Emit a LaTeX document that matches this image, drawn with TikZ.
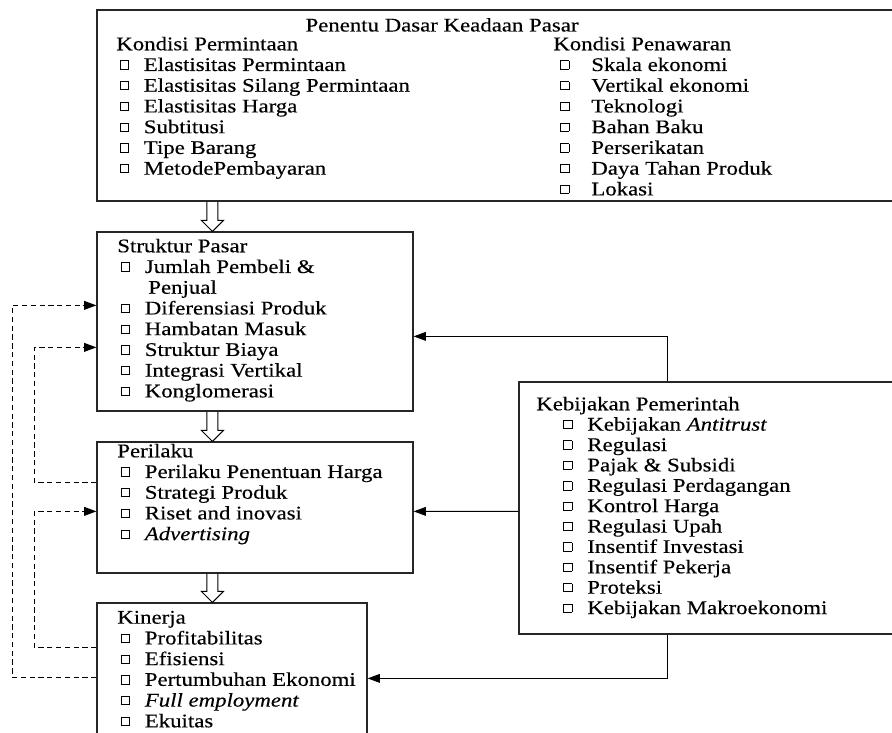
\documentclass[tikz,border=0pt]{standalone}
\usepackage{fontspec}
\setmainfont{Liberation Serif}[FakeStretch=1.18, FakeBold=0.3]
\usetikzlibrary{arrows.meta,calc,fit}

\newcommand{\cbox}{\raisebox{1.3pt}{\fboxsep=0pt\fboxrule=0.4pt\fbox{\rule{0pt}{4.3pt}\rule{4.3pt}{0pt}}}}
\newcommand{\itm}[2][0.07cm]{\hspace*{#1}\makebox[0.48cm][l]{\cbox}#2}
\newcommand{\itmr}[1]{\hspace*{0.14cm}\makebox[0.62cm][l]{\cbox}#1}
\newcommand{\flowarrow}[2]{%
  \draw[hollow] ($(#1)+(110.5,0)$) -- ($(#2)+(110.5,-11)$) -- ($(#2)+(105,-11)$)
    -- ($(#2)+(116,0)$) -- ($(#2)+(127,-11)$) -- ($(#2)+(121.5,-11)$) -- ($(#1)+(121.5,0)$);}

\begin{document}
\begin{tikzpicture}[
  x=0.02cm, y=-0.02cm,
  panel/.style={draw=black!85, line width=0.7pt, inner sep=0pt},
  txt/.style={inner sep=0pt, anchor=north west, align=left, font=\fontsize{11}{11.8}\selectfont},
  link/.style={-{Triangle[length=7pt,width=5pt]}, line width=0.6pt},
  feedback/.style={link, line width=0.75pt, dash pattern=on 3pt off 2pt},
  hollow/.style={line width=0.6pt, line join=miter}
]
\useasboundingbox (0,0) rectangle (892,733);
\clip (0,0) rectangle (892,733);

\node[panel, fit={(97,10) (900,201)}] (penentu) {};
\node[panel, fit={(97,232) (413,411)}] (struktur) {};
\node[panel, fit={(97,442) (413,573)}] (perilaku) {};
\node[panel, fit={(97,603) (367,760)}] (kinerja) {};
\node[panel, fit={(519,382) (900,634)}] (kebijakan) {};

\node[txt, anchor=base] (judul) at (442,31.5) {Penentu Dasar Keadaan Pasar};
\node[txt] (permintaan) at (116,36.5) {Kondisi Permintaan\\
  \itm{Elastisitas Permintaan}\\
  \itm{Elastisitas Silang Permintaan}\\
  \itm{Elastisitas Harga}\\
  \itm{Subtitusi}\\
  \itm{Tipe Barang}\\
  \itm{MetodePembayaran}};
\node[txt] (penawaran) at (553,36.5) {Kondisi Penawaran\\
  \itmr{Skala ekonomi}\\
  \itmr{Vertikal ekonomi}\\
  \itmr{Teknologi}\\
  \itmr{Bahan Baku}\\
  \itmr{Perserikatan}\\
  \itmr{Daya Tahan Produk}\\
  \itmr{Lokasi}};
\node[txt] (strukturtxt) at (117,238.5) {Struktur Pasar\\
  \itm{Jumlah Pembeli \&}\\
  \hspace*{0.62cm}Penjual\\
  \itm{Diferensiasi Produk}\\
  \itm{Hambatan Masuk}\\
  \itm{Struktur Biaya}\\
  \itm{Integrasi Vertikal}\\
  \itm{Konglomerasi}};
\node[txt] (perilakutxt) at (117,443.5) {Perilaku\\
  \itm{Perilaku Penentuan Harga}\\
  \itm{Strategi Produk}\\
  \itm{Riset and inovasi}\\
  \itm{\textit{Advertising}}};
\node[txt] (kinerjatxt) at (117,610.5) {Kinerja\\
  \itm{Profitabilitas}\\
  \itm{Efisiensi}\\
  \itm{Pertumbuhan Ekonomi}\\
  \itm{\textit{Full employment}}\\
  \itm{Ekuitas}};
\node[txt, font=\fontsize{11}{11.6}\selectfont] (kebijakantxt) at (536,396.5) {Kebijakan Pemerintah\\
  \itm[0.54cm]{Kebijakan \textit{Antitrust}}\\
  \itm[0.54cm]{Regulasi}\\
  \itm[0.54cm]{Pajak \& Subsidi}\\
  \itm[0.54cm]{Regulasi Perdagangan}\\
  \itm[0.54cm]{Kontrol Harga}\\
  \itm[0.54cm]{Regulasi Upah}\\
  \itm[0.54cm]{Insentif Investasi}\\
  \itm[0.54cm]{Insentif Pekerja}\\
  \itm[0.54cm]{Proteksi}\\
  \itm[0.54cm]{Kebijakan Makroekonomi}};

\flowarrow{penentu.south west}{struktur.north west}
\flowarrow{struktur.south west}{perilaku.north west}
\flowarrow{perilaku.south west}{kinerja.north west}

\draw[feedback] ($(kinerja.north west)+(0,75)$) -- ++(-84,0) |- ($(struktur.north west)+(0,74)$);
\draw[feedback] ($(perilaku.north west)+(0,41)$) -- ++(-62,0) |- ($(struktur.north west)+(0,116)$);
\draw[feedback] ($(kinerja.north west)+(0,45)$) -- ++(-62,0) |- ($(perilaku.north west)+(0,70)$);

\draw[link] ($(kebijakan.north west)+(149,0)$) |- ($(struktur.north east)+(0,105)$);
\draw[link] ($(kebijakan.north west)+(0,130)$) -- ($(perilaku.north east)+(0,70)$);
\draw[link] ($(kebijakan.south west)+(149,0)$) |- ($(kinerja.north east)+(0,76)$);
\end{tikzpicture}
\end{document}
